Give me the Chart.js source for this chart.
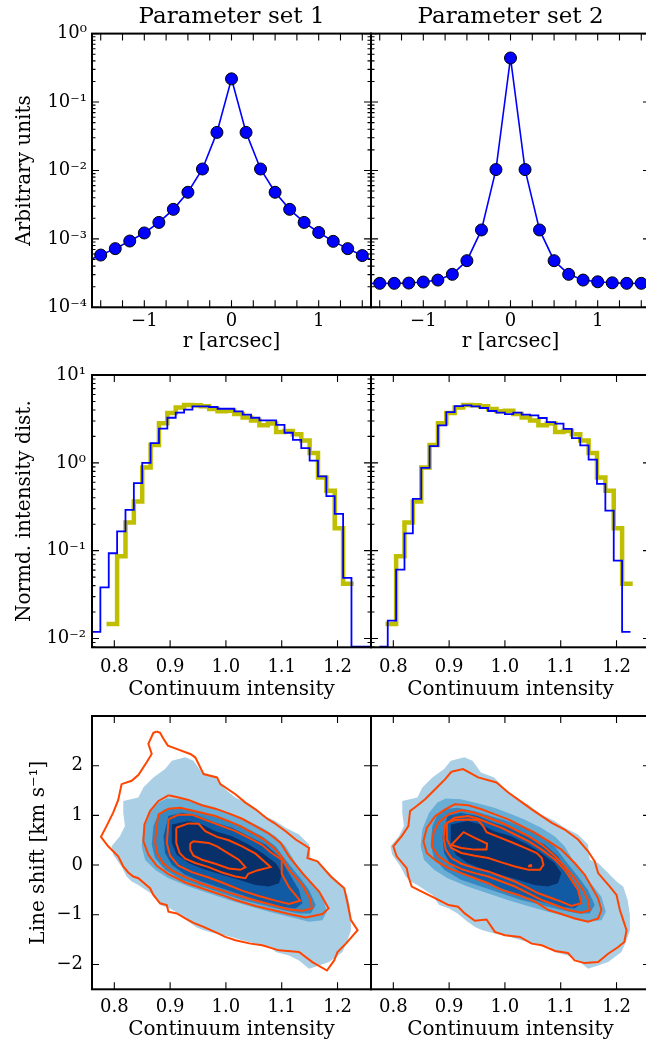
<!DOCTYPE html>
<html lang="en">
<head>
<meta charset="UTF-8">
<title>Parameter sets</title>
<script src="https://cdn.jsdelivr.net/npm/chart.js"></script>
<style>
  html, body { margin: 0; padding: 0; background: #fff; overflow: hidden; }
  body { width: 646px; height: 1047px; position: relative; }
  canvas { position: absolute; }
</style>
</head>
<body>
<canvas id="prof1" width="380" height="362" style="left:0;top:0"></canvas>
<canvas id="prof2" width="296" height="362" style="left:362px;top:0"></canvas>
<canvas id="hist1" width="380" height="360" style="left:0;top:342px"></canvas>
<canvas id="hist2" width="296" height="360" style="left:362px;top:342px"></canvas>
<canvas id="cont1" width="380" height="365" style="left:0;top:682px"></canvas>
<canvas id="cont2" width="296" height="365" style="left:362px;top:682px"></canvas>

<script>
// ---- top row: radial profiles ----
const rArcsec = [-1.667, -1.5, -1.333, -1.167, -1.0, -0.833, -0.667, -0.5, -0.333, -0.167, 0,
                 0.167, 0.333, 0.5, 0.667, 0.833, 1.0, 1.167, 1.333, 1.5, 1.667];
const profileSet1 = [4.7e-4, 5.8e-4, 7.2e-4, 9.3e-4, 1.22e-3, 1.74e-3, 2.7e-3, 4.8e-3, 1.05e-2, 3.6e-2, 0.218,
                     3.6e-2, 1.05e-2, 4.8e-3, 2.7e-3, 1.74e-3, 1.24e-3, 9.2e-4, 7.2e-4, 5.7e-4, 4.6e-4];
const profileSet2 = [2.24e-4, 2.24e-4, 2.24e-4, 2.26e-4, 2.34e-4, 2.5e-4, 3.03e-4, 4.8e-4, 1.35e-3, 1.03e-2, 0.44,
                     1.03e-2, 1.35e-3, 4.8e-4, 3.03e-4, 2.5e-4, 2.36e-4, 2.28e-4, 2.24e-4, 2.24e-4, 2.24e-4];
const rTickMarks = [-1.5, -1.25, -1, -0.75, -0.5, -0.25, 0, 0.25, 0.5, 0.75, 1, 1.25, 1.5];
const rTickLabels = [-1, 0, 1];
const profileDecades = [1e-4, 1e-3, 1e-2, 1e-1, 1];

// ---- middle row: intensity histograms (bin edges, one value per bin) ----
const binEdges = [0.76, 0.775, 0.79, 0.805, 0.82, 0.835, 0.85, 0.865, 0.88, 0.895, 0.91, 0.925,
                  0.94, 0.955, 0.97, 0.985, 1.0, 1.015, 1.03, 1.045, 1.06, 1.075, 1.09, 1.105,
                  1.12, 1.135, 1.15, 1.165, 1.18, 1.195, 1.21, 1.225, 1.24, 1.255, 1.27];
const histObserved = [null, null, 0.0146, 0.0863, 0.209, 0.362, 0.885, 1.60, 2.82, 3.70, 4.27, 4.55,
                      4.51, 4.40, 4.10, 3.87, 3.93, 3.60, 3.29, 3.04, 2.67, 2.80, 2.24, 2.30,
                      2.11, 1.80, 1.29, 0.68, 0.48, 0.18, 0.042, null, null, null];
const histSet1 = [0.0119, 0.0383, 0.0934, 0.166, 0.291, 0.587, 1.0, 1.68, 2.45, 3.26, 3.72, 4.03,
                  4.40, 4.40, 4.32, 4.13, 4.13, 3.85, 3.53, 3.26, 3.04, 3.04, 2.71, 2.20,
                  1.83, 1.47, 1.06, 0.70, 0.417, 0.262, 0.0489, 0.0081, 0.0081, 0.0081];
const histSet2 = [null, 0.0081, 0.0160, 0.0608, 0.157, 0.389, 0.877, 1.55, 2.67, 3.78, 4.43, 4.51,
                  4.40, 4.21, 3.89, 3.72, 3.58, 3.72, 3.53, 3.47, 3.24, 2.91, 2.79, 2.44,
                  1.91, 1.58, 1.09, 0.577, 0.286, 0.0771, 0.0119, null, null, null];
const intensityTicks = [0.8, 0.9, 1.0, 1.1, 1.2];
const histDecades = [0.01, 0.1, 1, 10];

// ---- bottom row: contours [intensity, line shift] ----
const obsFill1 = [[0.927,2.169],[0.942,2.101],[0.957,1.865],[0.981,1.764],[0.999,1.527],[1.017,1.358],[1.041,1.223],[1.065,1.020],[1.089,0.885],[1.107,0.750],[1.131,0.615],[1.149,0.412],[1.152,0.108],[1.167,0.041],[1.185,-0.162],[1.200,-0.331],[1.212,-0.432],[1.220,-0.703],[1.224,-1.007],[1.224,-1.311],[1.218,-1.514],[1.209,-1.750],[1.185,-1.953],[1.167,-2.020],[1.149,-2.088],[1.131,-1.919],[1.113,-1.818],[1.089,-1.750],[1.080,-1.649],[1.053,-1.581],[1.029,-1.514],[1.005,-1.432],[0.981,-1.378],[0.960,-1.311],[0.948,-1.257],[0.933,-1.142],[0.915,-0.973],[0.900,-0.872],[0.882,-0.804],[0.876,-0.703],[0.870,-0.601],[0.843,-0.399],[0.831,-0.331],[0.822,-0.230],[0.813,-0.027],[0.798,0.209],[0.795,0.378],[0.810,0.581],[0.819,0.784],[0.816,1.054],[0.816,1.291],[0.843,1.358],[0.852,1.561],[0.870,1.764],[0.891,1.932],[0.903,2.101]];
const obsFill2 = [[0.894,1.338],[0.921,1.324],[0.951,1.243],[0.981,1.155],[1.005,1.054],[1.035,0.919],[1.065,0.750],[1.089,0.581],[1.107,0.378],[1.125,0.041],[1.149,-0.297],[1.173,-0.635],[1.181,-0.939],[1.173,-1.108],[1.149,-1.142],[1.113,-1.041],[1.077,-0.939],[1.041,-0.824],[1.005,-0.703],[0.969,-0.568],[0.933,-0.432],[0.897,-0.264],[0.873,-0.095],[0.855,0.108],[0.849,0.378],[0.852,0.716],[0.864,1.054],[0.879,1.257]];
const obsFill3 = [[0.891,1.122],[0.915,1.155],[0.945,1.088],[0.975,0.986],[1.005,0.885],[1.035,0.750],[1.065,0.581],[1.089,0.378],[1.107,0.108],[1.131,-0.230],[1.149,-0.500],[1.161,-0.804],[1.152,-0.973],[1.131,-0.973],[1.101,-0.905],[1.065,-0.804],[1.029,-0.703],[0.993,-0.568],[0.957,-0.432],[0.921,-0.297],[0.891,-0.095],[0.873,0.142],[0.867,0.412],[0.870,0.784],[0.879,1.020]];
const obsFill4 = [[0.897,0.986],[0.921,1.054],[0.951,0.986],[0.981,0.851],[1.011,0.750],[1.041,0.581],[1.071,0.412],[1.095,0.176],[1.113,-0.162],[1.131,-0.500],[1.137,-0.770],[1.125,-0.872],[1.101,-0.838],[1.065,-0.736],[1.029,-0.601],[0.993,-0.466],[0.957,-0.331],[0.927,-0.196],[0.903,0.007],[0.891,0.243],[0.888,0.581]];
const obsFill5 = [[0.903,0.818],[0.933,0.885],[0.957,0.818],[0.981,0.682],[1.011,0.581],[1.041,0.412],[1.065,0.243],[1.089,0.041],[1.101,-0.162],[1.095,-0.365],[1.077,-0.432],[1.053,-0.399],[1.023,-0.297],[0.993,-0.196],[0.963,-0.095],[0.933,0.041],[0.912,0.209],[0.903,0.446]];

const set1Lines = [
  [[0.876,2.689],[0.882,2.662],[0.888,2.541],[0.896,2.405],[0.915,2.324],[0.936,2.236],[0.945,2.169],[0.960,1.831],[0.984,1.764],[0.990,1.628],[1.017,1.426],[1.035,1.257],[1.053,1.122],[1.074,0.932],[1.086,0.851],[1.107,0.682],[1.125,0.514],[1.149,0.345],[1.146,0.142],[1.164,0.074],[1.188,-0.230],[1.212,-0.466],[1.218,-0.770],[1.224,-1.108],[1.236,-1.311],[1.215,-1.581],[1.200,-1.750],[1.194,-1.919],[1.181,-2.122],[1.155,-1.953],[1.131,-1.750],[1.095,-1.716],[1.065,-1.615],[1.044,-1.581],[1.017,-1.514],[0.999,-1.446],[0.984,-1.365],[0.960,-1.243],[0.942,-1.162],[0.927,-1.074],[0.912,-0.973],[0.897,-0.939],[0.894,-0.804],[0.882,-0.770],[0.870,-0.601],[0.864,-0.466],[0.843,-0.264],[0.834,-0.230],[0.825,-0.149],[0.816,-0.027],[0.807,0.176],[0.789,0.378],[0.776,0.568],[0.786,0.784],[0.798,1.054],[0.807,1.311],[0.813,1.628],[0.831,1.696],[0.843,1.811],[0.858,2.068],[0.867,2.236],[0.861,2.439],[0.870,2.662]],
  [[0.897,1.405],[0.915,1.358],[0.933,1.311],[0.957,1.203],[0.981,1.135],[1.005,1.041],[1.029,0.932],[1.053,0.784],[1.077,0.635],[1.098,0.446],[1.113,0.176],[1.137,-0.162],[1.167,-0.534],[1.184,-0.872],[1.173,-0.986],[1.143,-1.054],[1.113,-0.986],[1.089,-0.919],[1.053,-0.824],[1.017,-0.703],[0.993,-0.601],[0.957,-0.466],[0.927,-0.351],[0.897,-0.182],[0.876,-0.014],[0.861,0.209],[0.852,0.480],[0.854,0.818],[0.864,1.088],[0.879,1.291]],
  [[0.879,1.020],[0.897,1.135],[0.918,1.155],[0.951,1.068],[0.981,0.986],[1.005,0.885],[1.026,0.784],[1.050,0.635],[1.068,0.514],[1.086,0.345],[1.100,0.162],[1.113,-0.095],[1.137,-0.399],[1.152,-0.703],[1.154,-0.872],[1.137,-0.919],[1.113,-0.892],[1.077,-0.784],[1.038,-0.669],[1.005,-0.554],[0.975,-0.446],[0.951,-0.351],[0.927,-0.243],[0.903,-0.108],[0.887,0.041],[0.876,0.243],[0.873,0.480],[0.876,0.784]],
  [[0.897,0.919],[0.915,1.014],[0.939,1.014],[0.969,0.885],[0.993,0.784],[1.017,0.682],[1.041,0.547],[1.064,0.412],[1.080,0.257],[1.100,0.108],[1.100,-0.176],[1.113,-0.446],[1.133,-0.716],[1.113,-0.784],[1.089,-0.716],[1.059,-0.622],[1.029,-0.514],[0.993,-0.351],[0.969,-0.250],[0.939,-0.142],[0.915,-0.014],[0.900,0.189],[0.894,0.446],[0.896,0.716]],
  [[0.911,0.750],[0.933,0.838],[0.951,0.831],[0.963,0.682],[0.984,0.568],[1.005,0.500],[1.029,0.378],[1.053,0.230],[1.080,-0.041],[1.056,-0.108],[1.040,-0.176],[1.035,-0.264],[1.017,-0.230],[0.993,-0.149],[0.969,-0.041],[0.945,0.041],[0.927,0.128],[0.917,0.243],[0.911,0.446]],
  [[0.936,0.432],[0.942,0.480],[0.969,0.446],[0.984,0.378],[1.005,0.230],[1.023,0.108],[1.035,-0.041],[1.026,-0.095],[1.005,-0.068],[0.981,0.027],[0.957,0.108],[0.942,0.189],[0.936,0.311]]
];
const set2Lines = [
  [[0.904,1.878],[0.925,1.932],[0.952,1.764],[0.985,1.662],[1.006,1.459],[1.027,1.291],[1.048,1.122],[1.066,0.986],[1.084,0.851],[1.107,0.716],[1.131,0.514],[1.149,0.277],[1.161,0.074],[1.167,-0.162],[1.188,-0.432],[1.200,-0.601],[1.206,-0.905],[1.212,-1.108],[1.218,-1.311],[1.214,-1.547],[1.203,-1.649],[1.185,-1.784],[1.167,-1.953],[1.143,-1.973],[1.125,-1.919],[1.113,-1.770],[1.090,-1.730],[1.066,-1.615],[1.048,-1.581],[1.027,-1.446],[1.000,-1.412],[0.982,-1.345],[0.967,-1.095],[0.946,-1.122],[0.928,-0.973],[0.916,-0.838],[0.899,-0.804],[0.887,-0.736],[0.869,-0.635],[0.851,-0.534],[0.833,-0.432],[0.827,-0.230],[0.824,-0.061],[0.806,0.176],[0.800,0.378],[0.815,0.581],[0.827,0.784],[0.830,1.088],[0.842,1.189],[0.857,1.324],[0.875,1.527],[0.893,1.730]],
  [[0.875,0.986],[0.893,1.122],[0.910,1.223],[0.934,1.203],[0.958,1.122],[0.982,1.020],[1.006,0.919],[1.030,0.784],[1.054,0.649],[1.078,0.480],[1.101,0.311],[1.125,0.041],[1.143,-0.196],[1.155,-0.432],[1.167,-0.669],[1.173,-0.905],[1.167,-1.074],[1.149,-1.142],[1.125,-1.074],[1.101,-0.986],[1.078,-0.905],[1.054,-0.736],[1.024,-0.601],[0.994,-0.500],[0.970,-0.365],[0.946,-0.264],[0.922,-0.162],[0.899,-0.061],[0.878,0.074],[0.860,0.243],[0.854,0.480],[0.860,0.750]],
  [[0.881,0.851],[0.899,1.020],[0.922,1.108],[0.946,1.054],[0.970,0.953],[0.994,0.851],[1.018,0.716],[1.042,0.581],[1.066,0.412],[1.090,0.176],[1.107,-0.027],[1.125,-0.264],[1.140,-0.500],[1.149,-0.703],[1.152,-0.905],[1.137,-0.959],[1.113,-0.905],[1.090,-0.804],[1.066,-0.703],[1.042,-0.568],[1.018,-0.432],[0.994,-0.331],[0.970,-0.230],[0.946,-0.162],[0.922,-0.081],[0.899,0.041],[0.881,0.176],[0.869,0.378],[0.872,0.649]],
  [[0.893,0.818],[0.910,0.953],[0.934,0.986],[0.952,0.932],[0.970,0.851],[0.994,0.750],[1.018,0.615],[1.042,0.480],[1.066,0.311],[1.090,0.108],[1.107,-0.095],[1.119,-0.297],[1.131,-0.500],[1.137,-0.770],[1.119,-0.824],[1.101,-0.736],[1.084,-0.669],[1.060,-0.568],[1.042,-0.466],[1.018,-0.331],[0.994,-0.230],[0.970,-0.128],[0.946,-0.061],[0.922,0.027],[0.904,0.142],[0.894,0.311],[0.890,0.547]],
  [[0.896,0.851],[0.910,0.905],[0.934,0.919],[0.952,0.905],[0.961,0.784],[0.967,0.662],[0.988,0.568],[1.012,0.459],[1.036,0.345],[1.057,0.243],[1.066,0.142],[1.069,0.007],[1.063,-0.095],[1.042,-0.095],[1.018,-0.027],[0.994,0.054],[0.970,0.142],[0.946,0.189],[0.922,0.243],[0.904,0.345],[0.896,0.514]],
  [[0.904,0.405],[0.926,0.662],[0.946,0.547],[0.968,0.432],[0.967,0.311],[0.946,0.311],[0.922,0.345]],
  [[1.043,-0.005],[1.047,-0.005],[1.047,-0.022],[1.043,-0.022]]
];
const shiftTicks = [-2, -1, 0, 1, 2];

// ---- styling ----
const fillColors = ['#abd0e6', '#6aaed6', '#3787c0', '#105ba4', '#08306b'];
const SERIF = "'DejaVu Serif', serif";

Chart.defaults.font.family = SERIF;
Chart.defaults.color = '#000';
Chart.defaults.animation = false;
Chart.defaults.responsive = false;
Chart.defaults.devicePixelRatio = 1;
Chart.defaults.plugins.legend.display = false;
Chart.defaults.plugins.tooltip.enabled = false;

// frame plus inward ticks on all four sides (matplotlib look)
const frameTicks = {
  id: 'frameTicks',
  afterDatasetsDraw(chart, args, opts) {
    const {ctx, chartArea: a} = chart;
    const x = chart.scales.x, y = chart.scales.y;
    ctx.save();
    ctx.strokeStyle = '#000';
    ctx.lineWidth = 1.1;
    ctx.beginPath();
    const hTick = (v, len) => {
      const p = x.getPixelForValue(v);
      ctx.moveTo(p, a.bottom); ctx.lineTo(p, a.bottom - len);
      ctx.moveTo(p, a.top); ctx.lineTo(p, a.top + len);
    };
    const vTick = (v, len) => {
      const p = y.getPixelForValue(v);
      ctx.moveTo(a.left, p); ctx.lineTo(a.left + len, p);
      ctx.moveTo(a.right, p); ctx.lineTo(a.right - len, p);
    };
    (opts.xMarks || []).forEach(v => hTick(v, 7));
    (opts.yMarks || []).forEach(v => vTick(v, 7));
    if (y.type === 'logarithmic') {
      for (let d = Math.floor(Math.log10(y.min)); d < Math.log10(y.max); d++) {
        for (let k = 2; k < 10; k++) {
          const v = k * Math.pow(10, d);
          if (v > y.min && v < y.max) vTick(v, 3.5);
        }
      }
    }
    ctx.stroke();
    ctx.lineWidth = 2;
    ctx.strokeRect(a.left, a.top, a.right - a.left, a.bottom - a.top);
    ctx.restore();
  }
};
Chart.register(frameTicks);

const SUP = {'-': '⁻', '0': '⁰', '1': '¹', '2': '²', '3': '³', '4': '⁴'};
const fmtLog = v => '10' + String(Math.round(Math.log10(v))).split('').map(c => SUP[c]).join('');
const fmtInt = v => (v < 0 ? '−' + Math.abs(v) : String(v));
const fmtDec = v => v.toFixed(1);

function makeOptions(p) {
  return {
    layout: {padding: p.left ? {left: 0, right: 9, top: p.top, bottom: 0}
                             : {left: 9, right: 8, top: p.top, bottom: 0}},
    plugins: {
      title: {display: !!p.title, text: p.title, fullSize: false, color: '#000',
              font: {size: 23, weight: 'normal'}, padding: {top: 3, bottom: 3}},
      frameTicks: {xMarks: p.xMarks, yMarks: p.yLabels}
    },
    scales: {
      x: {
        type: 'linear', min: p.xRange[0], max: p.xRange[1],
        grid: {display: false, drawTicks: false}, border: {display: false},
        ticks: {autoSkip: false, maxRotation: 0, padding: p.xTickPad, font: {size: 18}, callback: p.xFmt},
        title: {display: true, text: p.xTitle, font: {size: 20}, padding: {top: 0, bottom: p.xTitlePad}},
        afterBuildTicks: s => { s.ticks = p.xLabels.map(v => ({value: v})); },
        afterFit: s => { s.height = p.xHeight; }
      },
      y: {
        type: p.yLog ? 'logarithmic' : 'linear', min: p.yRange[0], max: p.yRange[1],
        grid: {display: false, drawTicks: false}, border: {display: false},
        ticks: {display: p.left, autoSkip: false, padding: p.yTickPad, font: {size: 18}, callback: p.yFmt},
        title: {display: p.left, text: p.yTitle, font: {size: 20}, padding: {top: p.yTitlePad, bottom: 0}},
        afterBuildTicks: s => { s.ticks = p.yLabels.map(v => ({value: v})); },
        afterFit: s => { s.width = p.left ? 92 : 0; }
      }
    }
  };
}

// top row
const profRow = {
  top: 0, xRange: [-1.6, 1.6], xLabels: rTickLabels, xMarks: rTickMarks, xFmt: fmtInt,
  xTitle: 'r [arcsec]', xTickPad: 3.7, xTitlePad: 8.6, xHeight: 54.7,
  yLog: true, yRange: [1e-4, 1], yLabels: profileDecades, yFmt: fmtLog,
  yTitle: 'Arbitrary units', yTickPad: 5, yTitlePad: 13
};
function profileChart(id, vals, title, left) {
  new Chart(document.getElementById(id), {
    type: 'line',
    data: {datasets: [{
      data: rArcsec.map((r, i) => ({x: r, y: vals[i]})),
      borderColor: '#0000ff', borderWidth: 1.6, tension: 0, clip: 0,
      pointRadius: c => (Math.abs(rArcsec[c.dataIndex]) > 1.6 ? 0 : 6),
      pointBackgroundColor: '#0000ff', pointBorderColor: '#000', pointBorderWidth: 1
    }]},
    options: makeOptions(Object.assign({}, profRow, {title, left}))
  });
}
profileChart('prof1', profileSet1, 'Parameter set 1', true);
profileChart('prof2', profileSet2, 'Parameter set 2', false);

// middle row
function stepPoints(vals) {
  const pts = [];
  let last = -1;
  vals.forEach((v, j) => { if (v !== null) { pts.push({x: binEdges[j], y: v}); last = j; } });
  pts.push({x: binEdges[last + 1], y: vals[last]});
  return pts;
}
const histRow = {
  top: 33, xRange: [0.76, 1.26], xLabels: intensityTicks, xMarks: intensityTicks, xFmt: fmtDec,
  xTitle: 'Continuum intensity', xTickPad: 9, xTitlePad: 0.2, xHeight: 54.7,
  yLog: true, yRange: [0.00794, 10], yLabels: histDecades, yFmt: fmtLog,
  yTitle: 'Normd. intensity dist.', yTickPad: 6, yTitlePad: 13
};
function histChart(id, modelVals, left) {
  new Chart(document.getElementById(id), {
    type: 'line',
    data: {datasets: [
      {data: stepPoints(modelVals), stepped: true, borderColor: '#0000ff', borderWidth: 1.8,
       pointRadius: 0, borderJoinStyle: 'miter', order: 0},
      {data: stepPoints(histObserved), stepped: true, borderColor: '#bfbf00', borderWidth: 4.5,
       pointRadius: 0, borderJoinStyle: 'miter', borderCapStyle: 'square', order: 1}
    ]},
    options: makeOptions(Object.assign({}, histRow, {left}))
  });
}
histChart('hist1', histSet1, true);
histChart('hist2', histSet2, false);

// bottom row
const loop = poly => poly.concat([poly[0]]).map(([x, y]) => ({x, y}));
const contRow = {
  top: 34, xRange: [0.76, 1.26], xLabels: intensityTicks, xMarks: intensityTicks, xFmt: fmtDec,
  xTitle: 'Continuum intensity', xTickPad: 7, xTitlePad: 5.2, xHeight: 57.7,
  yLog: false, yRange: [-2.5, 3], yLabels: shiftTicks, yFmt: fmtInt,
  yTitle: 'Line shift [km s⁻¹]', yTickPad: 9, yTitlePad: 27
};
function contourChart(id, modelLines, left) {
  const fills = [obsFill1, obsFill2, obsFill3, obsFill4, obsFill5].map((poly, i) => ({
    data: loop(poly), fill: 'shape', backgroundColor: fillColors[i], borderColor: 'transparent',
    borderWidth: 1, pointRadius: 0, tension: 0, order: 10 - i
  }));
  const lines = modelLines.map(poly => ({
    data: loop(poly), fill: false, borderColor: '#ff4500', borderWidth: 2,
    pointRadius: 0, tension: 0, order: 0
  }));
  new Chart(document.getElementById(id), {
    type: 'line',
    data: {datasets: fills.concat(lines)},
    options: makeOptions(Object.assign({}, contRow, {left}))
  });
}
contourChart('cont1', set1Lines, true);
contourChart('cont2', set2Lines, false);
</script>
</body>
</html>
